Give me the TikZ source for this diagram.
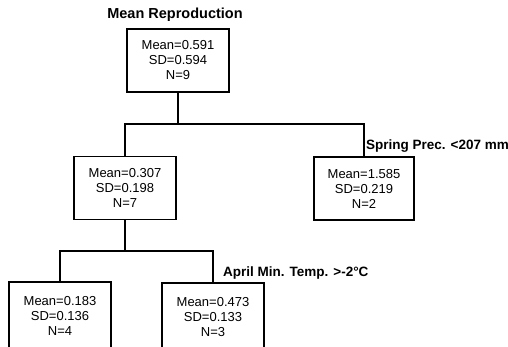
\documentclass[tikz,border=0pt]{standalone}
\usepackage{fontspec}
\setmainfont{Liberation Sans}
\begin{document}
\begin{tikzpicture}[x=1pt,y=-1pt,
  box/.style={draw,line width=1.1pt,minimum width=102pt,minimum height=63pt,inner sep=0pt,align=center,font=\fontsize{13}{15}\selectfont},
  lbl/.style={font=\fontsize{13.5}{15}\selectfont\bfseries,inner sep=0pt,anchor=west},
  conn/.style={line width=1.1pt}]
\useasboundingbox (0,0) rectangle (508,346);
\clip (0,0) rectangle (508,346);
\node[font=\fontsize{14.5}{16}\selectfont\bfseries,inner sep=0pt] (title) at (175,15) {Mean Reproduction};
\node[box] (root) at (178,60.5) {Mean=0.591\\SD=0.594\\N=9};
\node[box] (lc) at (125,188) {Mean=0.307\\SD=0.198\\N=7};
\node[box,minimum width=100pt] (rc) at (364,188.5) {Mean=1.585\\SD=0.219\\N=2};
\node[box,minimum height=68pt] (ll) at (60,316) {Mean=0.183\\SD=0.136\\N=4};
\node[box,minimum height=68pt] (lr) at (213,317) {Mean=0.473\\SD=0.133\\N=3};
\node[lbl] (l1) at (366,146) {Spring Prec. <207 mm};
\node[lbl] (l2) at (223,273) {April Min. Temp. >-2°C};
\coordinate (j1) at (178,124);
\coordinate (j2) at (125,251);
\draw[conn] (root.south) -- (j1);
\draw[conn] (lc.north) |- (j1) -| (rc.north);
\draw[conn] (lc.south) -- (j2);
\draw[conn] (ll.north) |- (j2) -| (lr.north);
\end{tikzpicture}
\end{document}
